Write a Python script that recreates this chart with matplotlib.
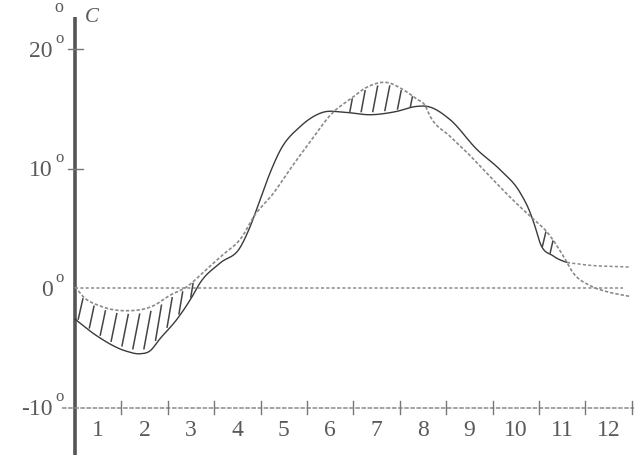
import numpy as np
import matplotlib
matplotlib.use("Agg")
import matplotlib.pyplot as plt

# Monthly temperature curves (°C) across the year, month axis 0..12
x_a = [0, 0.47, 1.12, 1.40, 1.62, 1.83, 2.20, 2.52, 2.69, 3.13, 3.56, 3.77,
       3.99, 4.20, 4.42, 4.85, 5.34, 5.82, 6.36, 6.90, 7.37, 7.59, 8.08, 8.66,
       9.16, 9.59, 9.81, 9.91, 10.02, 10.30, 10.52, 10.88, 11.96]
y_a = [-2.6, -4.0, -5.3, -5.5, -5.25, -4.25, -2.6, -0.75, 0.4, 2.1, 3.4, 5.1,
       7.4, 9.6, 11.5, 13.5, 14.7, 14.7, 14.5, 14.75, 15.2, 15.2, 14.1, 11.6,
       9.9, 8.0, 6.3, 5.2, 3.8, 2.7, 2.25, 2.0, 1.75]

x_b = [0, 0.17, 0.54, 1.12, 1.68, 2.05, 2.41, 2.76, 3.13, 3.62, 3.84, 4.27, 4.70,
       5.06, 5.56, 5.93, 6.29, 6.72, 7.07, 7.37, 7.54, 7.65, 8.08, 8.51, 8.73,
       9.59, 9.87, 10.17, 10.52, 10.73, 11.10, 11.46, 11.96]
y_b = [0.1, -0.7, -1.5, -1.9, -1.5, -0.6, 0.1, 1.3, 2.6, 4.4, 5.9, 7.9, 10.3,
       12.2, 14.7, 15.8, 16.8, 17.2, 16.6, 15.8, 15.3, 14.4, 12.7, 11.1, 10.2,
       6.8, 5.8, 4.7, 2.7, 1.3, 0.2, -0.3, -0.7]

months = list(range(1, 13))
month_labels = [str(m) for m in months]
y_ticks = [20, 10, 0, -10]
y_tick_labels = ["20", "10", "0", "-10"]

A_SOLID_END = 10.6      # curve A turns into a dotted trace after this month
ZERO_LINE_END = 11.8

def smooth(xs, ys, n=900):
    xs = np.asarray(xs, float)
    ys = np.asarray(ys, float)
    m = np.gradient(ys, xs)
    xx = np.linspace(xs[0], xs[-1], n)
    i = np.clip(np.searchsorted(xs, xx) - 1, 0, len(xs) - 2)
    h = xs[i + 1] - xs[i]
    t = (xx - xs[i]) / h
    h00 = 2 * t**3 - 3 * t**2 + 1
    h10 = t**3 - 2 * t**2 + t
    h01 = -2 * t**3 + 3 * t**2
    h11 = t**3 - t**2
    return xx, h00 * ys[i] + h10 * h * m[i] + h01 * ys[i + 1] + h11 * h * m[i + 1]

xa, ya = smooth(x_a, y_a)
xb, yb = smooth(x_b, y_b)
grid = np.linspace(0, 11.96, 2400)
fa = np.interp(grid, xa, ya)
fb = np.interp(grid, xb, yb)

fig = plt.figure(figsize=(6.34, 4.55), dpi=100)
ax = fig.add_axes([0, 0, 1, 1])
ax.set_xlim(-1.616, 12.047)
ax.set_ylim(-13.97, 24.1)
ax.axis("off")

ink = "#3a3a3a"
grey = "#8a8a8a"
txt = "#5a5a5a"

# axes
ax.plot([0, 0], [22.7, -14.5], color="#555555", lw=2.6, solid_capstyle="butt")
ax.plot([-0.27, 12.05], [-10, -10], color="#8c8c8c", lw=1.1, ls=(0, (3, 1)))
for m in months:
    ax.plot([m, m], [-10.55, -9.45], color="#777777", lw=1.0)
for v in (20, 10):
    ax.plot([-0.16, 0.17], [v, v], color="#777777", lw=1.0)

# zero line
ax.plot([0, ZERO_LINE_END], [0, 0], color=grey, lw=1.1, ls=(0, (2, 1.5)))

# curves
solid = xa <= A_SOLID_END
ax.plot(xa[solid], ya[solid], color=ink, lw=1.0)
ax.plot(xa[xa >= A_SOLID_END], ya[xa >= A_SOLID_END], color=grey, lw=1.1, ls=(0, (2, 1.5)))
ax.plot(xb, yb, color=grey, lw=1.2, ls=(0, (2, 1.2)))

# hatch strokes where curve B lies above curve A
def hatch(x0, x1, step=0.24, min_gap=0.9):
    xs = np.arange(x0, x1, step)
    for x in xs:
        lo = np.interp(x, grid, fa)
        hi = np.interp(x, grid, fb)
        gap = hi - lo
        if gap < min_gap:
            continue
        dx = gap * 0.02
        lo2 = np.interp(x - dx, grid, fa)
        hi2 = np.interp(x + dx, grid, fb)
        g = hi2 - lo2
        ax.plot([x - dx, x + dx], [lo2 + 0.1 * g, hi2 - 0.1 * g], color="#444444", lw=1.1)

hatch(0.12, 2.55)
hatch(5.95, 7.3, step=0.26, min_gap=0.6)
hatch(9.95, 10.45, step=0.16)

# tick labels
font = dict(family="Liberation Serif", color=txt)
for v, lab in zip(y_ticks, y_tick_labels):
    ax.text(-0.48, v - 0.2, lab, ha="right", va="center", fontsize=17, **font)
    ax.text(-0.33, v + 0.85, "o", ha="center", va="center", fontsize=12, **font)
for m, lab in zip(months, month_labels):
    ax.text(m - 0.5, -11.9, lab, ha="center", va="center", fontsize=17, **font)

# unit label
ax.text(-0.345, 23.45, "o", ha="center", va="center", fontsize=13, **font)
ax.text(0.36, 22.6, "C", ha="center", va="center", fontsize=15, style="italic", **font)

fig.savefig("out.png", dpi=100, facecolor="white")
